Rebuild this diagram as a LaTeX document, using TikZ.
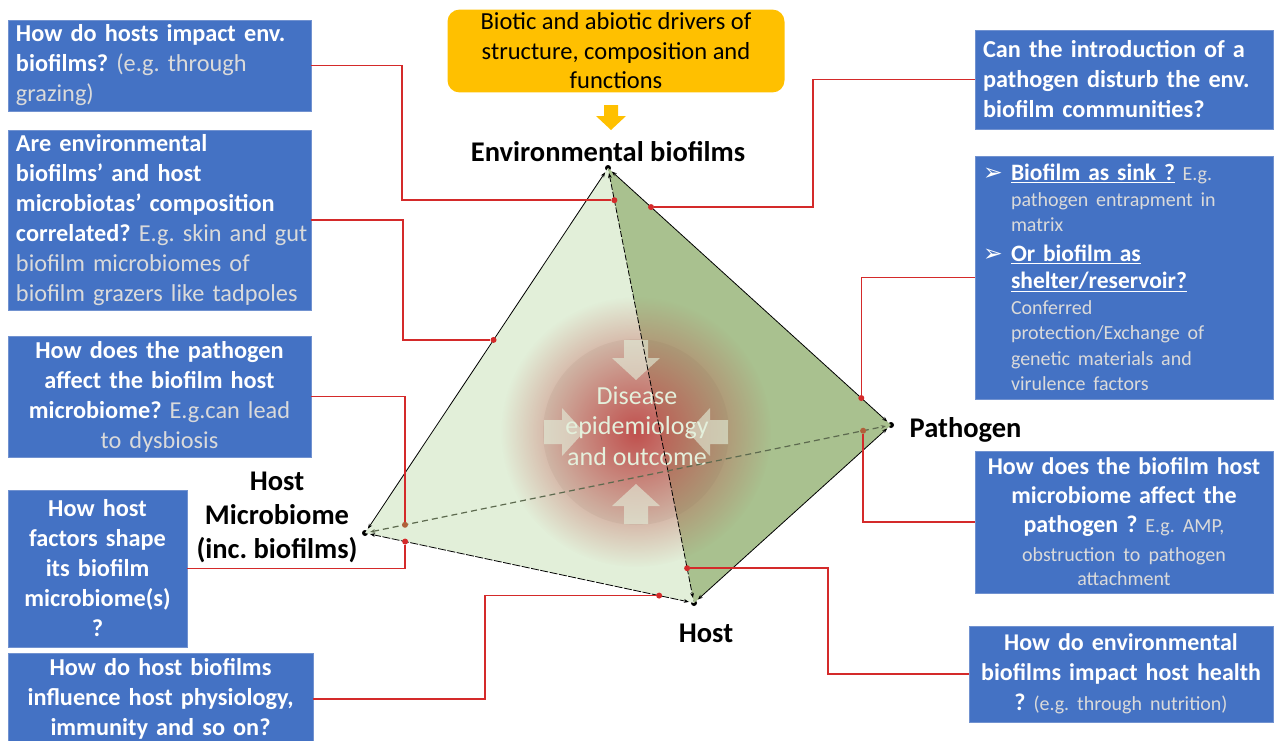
\documentclass[tikz,border=0pt]{standalone}
\usepackage{fontspec}
\setmainfont{Carlito}
\newfontfamily\symfont{DejaVu Sans}
\usetikzlibrary{positioning,calc,arrows.meta,fadings}
\frenchspacing

\definecolor{qblue}{HTML}{4472C4}
\definecolor{qrim}{HTML}{7192D0}
\definecolor{drv}{HTML}{FFC000}
\definecolor{faceL}{HTML}{E2EFD9}
\definecolor{faceR}{HTML}{A9C18F}
\definecolor{lnk}{HTML}{D42A2A}
\definecolor{lite}{HTML}{DADADA}
\definecolor{sick}{HTML}{C0504D}
\definecolor{pale}{HTML}{E4F0DC}
\definecolor{hidden}{HTML}{B0603A}

\newcommand{\lite}[1]{{\mdseries\color{lite}#1}}
\newcommand{\sml}{\fontsize{20}{24}\selectfont}
\newcommand{\bul}{\makebox[28pt][l]{\symfont\mdseries ➢}}
\tikzfading[name=glow, inner color=transparent!0, outer color=transparent!100]

\begin{document}
\begin{tikzpicture}[x=1pt, y=-1pt,
  qbox/.style={draw=qrim, fill=qblue, text=white, inner xsep=8pt, inner ysep=2pt,
    font=\fontsize{24.3}{30}\selectfont\bfseries},
  vdot/.style={circle, fill=black, inner sep=0pt, minimum size=6pt},
  rdot/.style={circle, fill=lnk, inner sep=0pt, minimum size=6pt},
  bdot/.style={circle, fill=hidden, inner sep=0pt, minimum size=6pt},
  link/.style={draw=lnk, line width=1.5pt},
  rib/.style={line width=0.8pt, shorten <=2pt, shorten >=2pt,
    {Stealth[length=5pt]}-{Stealth[length=5pt]}},
  lbl/.style={font=\fontsize{28.5}{34}\selectfont\bfseries, align=center},
]
\useasboundingbox (0,0) rectangle (1277,740);

% vertices of the tetrahedron
\node[vdot] (T) at (608,168) {};
\node[vdot] (L) at (365,533) {};
\node[vdot] (H) at (694,603) {};
\node[vdot] (P) at (891,425) {};

% faces
\fill[faceL] (T.center) -- (L.center) -- (H.center) -- cycle;
\fill[faceR] (T.center) -- (H.center) -- (P.center) -- cycle;

% disease glow in the middle
\coordinate (C) at (636,432);
\fill[faceR!50!black, opacity=0.08] (C) circle (93);
\fill[sick, path fading=glow] (C) circle (135);
\foreach \a in {0,90,180,270}{
  \fill[pale, opacity=0.6, shift={(C)}, rotate=\a]
    (-12,-92) -- (12,-92) -- (12,-74) -- (24,-74) -- (0,-52) -- (-24,-74) -- (-12,-74) -- cycle;
}
\node[font=\fontsize{26}{30.5}\selectfont, text=pale, align=center] (dis) at (637,426)
  {Disease\\epidemiology\\and outcome};

% edges
\draw[rib] (T) -- (L);
\draw[rib] (T) -- (P);
\draw[rib] (P) -- (H);
\draw[rib, dash pattern=on 8pt off 1.5pt] (L) -- (H);
\draw[rib, dash pattern=on 6pt off 2pt] (T) -- (H);
\draw[rib, draw=faceR!55!black, line width=1.2pt, dash pattern=on 6pt off 4pt] (L) -- (P);

% vertex labels
\node[lbl, above=0pt of T] (envlbl) {Environmental biofilms};
\node[lbl, right=12pt of P, yshift=-5pt] (patlbl) {Pathogen};
\node[lbl, below=14pt of H, xshift=12pt] (hostlbl) {Host};
\node[lbl] (hmlbl) at (277,517) {Host\\Microbiome\\(inc. biofilms)};

% drivers box
\node[fill=drv, rounded corners=12pt, minimum width=337, minimum height=82,
  font=\fontsize{24.5}{29.5}\selectfont, align=center] (drivers) at (616,51)
  {Biotic and abiotic drivers of\\structure, composition and\\functions};
\fill[drv] (604,105) -- (618,105) -- (618,116) -- (626,116) -- (611,130) -- (596,116) -- (604,116) -- cycle;

% question boxes, left
\node[qbox, minimum width=303, minimum height=91, text width=287, align=left] (qa) at (159.5,65.5)
  {How do hosts impact env.\\biofilms? \lite{(e.g. through}\\\lite{grazing)}};
\node[qbox, minimum width=303, minimum height=180, text width=287, align=left, inner ysep=0pt] (qb) at (159.5,220)
  {Are environmental\\biofilms’ and host\\microbiotas’ composition\\\mbox{correlated? \lite{E.g. skin and gut}}\\\lite{biofilm microbiomes of}\\\lite{biofilm grazers like tadpoles}};
\node[qbox, minimum width=303, minimum height=121, text width=287, align=center] (qc) at (159.5,396.5)
  {How does the pathogen\\affect the biofilm host\\microbiome? \lite{E.g.can lead}\\\lite{to dysbiosis}};
\node[qbox, minimum width=179, minimum height=157, text width=163, align=center] (qd) at (97.5,568.5)
  {How host\\factors shape\\its biofilm\\microbiome(s)\\?};
\node[qbox, minimum width=305, minimum height=92, text width=289, align=center] (qe) at (160.5,699)
  {How do host biofilms\\influence host physiology,\\immunity and so on?};

% question boxes, right
\node[qbox, minimum width=298, minimum height=99, text width=282, align=left] (qf) at (1124,79.5)
  {Can the introduction of a\\pathogen disturb the env.\\biofilm communities?};
\node[qbox, minimum width=298, minimum height=243, text width=282, align=left,
  font=\fontsize{23.5}{25.5}\selectfont\bfseries] (qg) at (1124,277.5)
  {\bul\underline{Biofilm as sink ?} {\sml\lite{E.g.}}\\
   \hspace*{28pt}{\sml\lite{pathogen entrapment in}}\\
   \hspace*{28pt}{\sml\lite{matrix}}\\[4pt]
   \bul\underline{Or biofilm as}\\[2pt]
   \hspace*{28pt}\underline{shelter/reservoir?}\\
   \hspace*{28pt}{\sml\lite{Conferred}}\\
   \hspace*{28pt}{\sml\lite{protection/Exchange of}}\\
   \hspace*{28pt}{\sml\lite{genetic materials and}}\\
   \hspace*{28pt}{\sml\lite{virulence factors}}};
\node[qbox, minimum width=298, minimum height=142, text width=282, align=center,
  font=\fontsize{24}{29}\selectfont\bfseries] (qh) at (1124,522)
  {How does the biofilm host\\microbiome affect the\\pathogen ? {\sml\lite{E.g. AMP,}}\\
   {\sml\lite{obstruction to pathogen}}\\[-5pt]{\sml\lite{attachment}}};
\node[qbox, minimum width=304, minimum height=96, text width=288, align=center,
  font=\fontsize{24}{30}\selectfont\bfseries] (qi) at (1121,674)
  {How do environmental\\biofilms impact host health\\? {\sml\lite{(e.g. through nutrition)}}};

% anchor points on the edges
\node[rdot] (d1) at ($(T.center)!0.074!(H.center)$) {};
\node[rdot] (d2) at ($(T.center)!0.152!(P.center)$) {};
\node[rdot] (d3) at ($(T.center)!0.471!(L.center)$) {};
\node[bdot] (d4) at ($(L.center)!0.076!(P.center)$) {};
\node[rdot] (d5) at ($(L.center)!0.122!(H.center)$) {};
\node[rdot] (d6) at ($(L.center)!0.894!(H.center)$) {};
\node[rdot] (d7) at ($(T.center)!0.895!(P.center)$) {};
\node[bdot] (d8) at ($(L.center)!0.947!(P.center)$) {};
\node[rdot] (d9) at ($(T.center)!0.920!(H.center)$) {};

% connectors
\draw[link] (qa.east) -- ++(91,0) |- (d1);
\draw[link] (qf.west) -- ++(-162,0) |- (d2);
\draw[link] (qb.east) -- ++(92,0) |- (d3);
\draw[link] (qc.east) -| (d4);
\draw[link] (qd.east) -| (d5);
\draw[link] (qe.east) -- ++(172,0) |- (d6);
\draw[link] (qg.west) -| (d7);
\draw[link] (qh.west) -| (d8);
\draw[link] (qi.west) -- ++(-141,0) |- (d9);
\end{tikzpicture}
\end{document}
